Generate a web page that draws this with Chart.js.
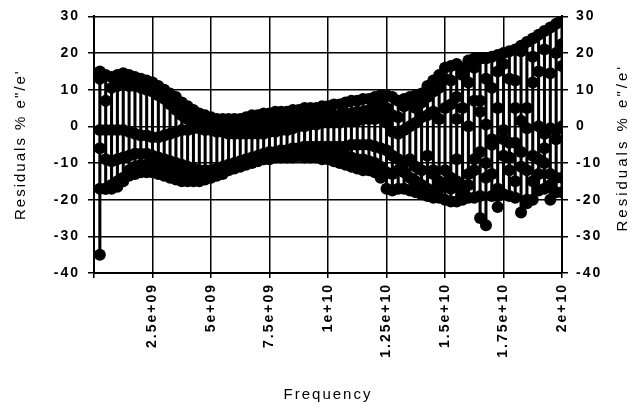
<!DOCTYPE html>
<html lang="en">
<head>
  <meta charset="UTF-8">
  <title>Residuals vs Frequency</title>
  <script src="https://cdn.jsdelivr.net/npm/chart.js"></script>
  <style>
    body { margin: 0; background: #fff; }
    #wrap { width: 632px; height: 410px; position: relative; }
  </style>
</head>
<body>
  <div id="wrap"><canvas id="chart"></canvas></div>

  <script>
    // frequency of each sample, in GHz
    const freqGHz = [
      0.25, 0.5, 0.75, 1, 1.25, 1.5, 1.75, 2, 2.25, 2.5,
      2.75, 3, 3.25, 3.5, 3.75, 4, 4.25, 4.5, 4.75, 5,
      5.25, 5.5, 5.75, 6, 6.25, 6.5, 6.75, 7, 7.25, 7.5,
      7.75, 8, 8.25, 8.5, 8.75, 9, 9.25, 9.5, 9.75, 10,
      10.25, 10.5, 10.75, 11, 11.25, 11.5, 11.75, 12, 12.25, 12.5,
      12.75, 13, 13.25, 13.5, 13.75, 14, 14.25, 14.5, 14.75, 15,
      15.25, 15.5, 15.75, 16, 16.25, 16.5, 16.75, 17, 17.25, 17.5,
      17.75, 18, 18.25, 18.5, 18.75, 19, 19.25, 19.5, 19.75, 20
    ];

    // residuals (%) for each measurement run
    const runA = [
      15, 14, 13.5, 14, 14.5, 14, 13.5, 13, 12.5, 12,
      11, 10, 9, 8, 6.5, 5.5, 4.5, 3.5, 3, 2.5,
      2, 2, 2, 2, 2, 2.5, 3, 3, 3.5, 3.5,
      4, 4, 4, 4.5, 4.5, 5, 5, 5, 5.5, 5.5,
      6, 6, 6.5, 7, 7, 7.5, 7.5, 8, 8.5, 8.5,
      8, 7, 7.5, 8, 8.5, 9, 11, 12.5, 14, 16,
      16.5, 17, 16, 18, 18.5, 18.5, 18.5, 19, 19.5, 20,
      20.5, 21, 22, 23, 24, 25, 26, 27, 28, 29.5
    ];
    const runB = [
      -35, -17, -17, -16.5, -15, -13.5, -13, -12.5, -12.5, -12.5,
      -13, -13.5, -14, -14.5, -15, -15, -15, -15, -14.5, -14,
      -13.5, -13, -12, -11.5, -11, -10.5, -10, -9.5, -9, -8.5,
      -8, -8, -8, -8, -8, -8.5, -8.5, -8.5, -9, -9,
      -9.5, -10, -10.5, -11, -11.5, -12, -12, -12.5, -14, -17,
      -17.5, -17, -17, -17.5, -18, -18.5, -19, -19.5, -19.5, -20,
      -20.5, -20.5, -20, -19.5, -19.5, -25, -27, -19, -22, -18.5,
      -19, -19.5, -23.5, -20, -20, -17.5, -17, -16, -18, -14
    ];
    const runC = [
      13, 7, 10.5, 11, 11.5, 11, 11, 10.5, 10, 9.5,
      8.5, 7.5, 6, 4.5, 3, 2, 1.5, 1, 0.5, 0.5,
      0, 0, 0, 0, 0, 0.5, 0.5, 0.5, 0.5, 1,
      1, 1.5, 1.5, 2, 2, 2, 2.5, 2.5, 2.5, 3,
      3, 3, 3.5, 3.5, 4, 4, 4.5, 5, 6, 5,
      3, 2.5, 5.5, 6, 5, 6.5, 8, 9.5, 10.5, 13,
      12.5, 8, 14, 12, 16, 7, 13, 10.5, 15, 17,
      13, 12.5, 20.5, 5, 19, 15, 21, 14.5, 20, 22.5
    ];
    const runD = [
      -6, -1, -1, -1, -1, -1.5, -2, -2.5, -2.5, -3,
      -3, -2.5, -2, -1.5, -1, -1, -0.5, -0.5, -1, -1,
      -1.5, -1.5, -2, -2, -2, -2, -2, -2, -2, -1.5,
      -1.5, -1, -1, -0.5, 0, 0, 0.5, 0.5, 1, 1,
      1, 1, 1.5, 1.5, 1.5, 2, 2, 2, 2.5, 1,
      -1.5, -2, -1, 0, 1, 2.5, 3, 4, 2, 5,
      6, 2, 5, 0, 7, 4, 0.5, -3.5, 5, -1,
      -4.5, 5, 1.5, -0.5, 12, 0, -2, -0.5, -1, 16.5
    ];
    const runE = [
      -1, -9, -9.5, -9, -8.5, -8, -7.5, -7.5, -7.5, -8,
      -8.5, -9, -9.5, -10, -10.5, -11, -11.5, -12, -12, -12,
      -11.5, -11, -10.5, -10, -9.5, -9, -8.5, -8, -7.5, -7,
      -7, -6.5, -6.5, -6, -6, -5.5, -5.5, -5.5, -5.5, -5.5,
      -5.5, -5.5, -5.5, -5, -5, -5, -5, -5.5, -6, -6.5,
      -8, -9, -10, -9, -11, -12, -8, -13, -15, -12,
      -14, -9, -16, -13, -12, -7, -14, -5, -17, -3.5,
      -8.5, -4.5, -11, -12, -8, -13, -6, -13, -3.5, 0
    ];
    const runF = [
      -17, -17, -16, -15, -14, -12, -11, -10.5, -10.5, -11,
      -11, -11.5, -12, -12.5, -13, -13, -13, -13, -12.5, -12.5,
      -12, -11.5, -11, -10.5, -10, -9.5, -9.5, -9, -9, -9,
      -8.5, -8.5, -8.5, -8.5, -8, -8, -8, -7.5, -7.5, -7.5,
      -7.5, -8, -8, -8.5, -9, -9, -9.5, -10, -11, -12.5,
      -13, -12, -12.5, -14, -15, -16, -17, -12, -17, -16,
      -17, -15, -18, -16, -9, -19, -10, -13, -19, -8,
      -12, -15, -7, -21, -15, -9, -10, -20, -14, -18
    ];

    const runs = [runA, runB, runC, runD, runE, runF];
    const yTitle = 'Residuals % e"/e\'';
    const xTitle = 'Frequency';

    const font = '"Liberation Sans", Arial, sans-serif';
    Chart.defaults.font.family = font;
    Chart.defaults.color = '#000';

    // 2.5e9 -> "2.5e+09"
    function sci(v) {
      if (v === 0) return '';
      const [m, e] = Number(v).toExponential().split('e');
      return m + 'e' + e[0] + e.slice(1).padStart(2, '0');
    }

    // high-low line at every frequency
    const hiLo = freqGHz.map((f, i) => {
      const vals = runs.map(r => r[i]);
      return { x: f * 1e9, y: [Math.min(...vals), Math.max(...vals)] };
    });

    const datasets = [{
      type: 'bar',
      data: hiLo,
      backgroundColor: '#000',
      barThickness: 2.4,
      order: 2
    }];
    runs.forEach(r => {
      datasets.push({
        type: 'scatter',
        data: freqGHz.map((f, i) => ({ x: f * 1e9, y: r[i] })),
        pointRadius: 6,
        pointBackgroundColor: '#000',
        pointBorderWidth: 0,
        showLine: false,
        order: 1
      });
    });

    const textStyle = {
      id: 'textStyle',
      beforeDraw(chart) {
        chart.ctx.letterSpacing = '2px';
      },
      afterDraw(chart) {
        const ctx = chart.ctx;
        ctx.save();
        ctx.letterSpacing = '3px';
        ctx.font = '15px ' + font;
        ctx.fillStyle = '#000';
        ctx.textAlign = 'center';
        ctx.textBaseline = 'middle';
        ctx.translate(623, (chart.chartArea.top + chart.chartArea.bottom) / 2 + 3);
        ctx.rotate(-Math.PI / 2);
        ctx.fillText(yTitle, 0, 0);
        ctx.restore();
      }
    };

    new Chart(document.getElementById('chart'), {
      type: 'scatter',
      data: { datasets },
      plugins: [textStyle],
      options: {
        responsive: true,
        maintainAspectRatio: false,
        animation: false,
        layout: { padding: { top: 16, left: 0, right: 0, bottom: 0 } },
        plugins: { legend: { display: false }, tooltip: { enabled: false } },
        scales: {
          x: {
            type: 'linear',
            min: 0,
            max: 2e10,
            offset: false,
            afterFit: s => { s.height = 137; },
            grid: { color: '#000', lineWidth: 1.5, tickLength: 5, offset: false },
            border: { color: '#000', width: 2 },
            ticks: {
              stepSize: 2.5e9,
              minRotation: 90,
              maxRotation: 90,
              padding: 5,
              font: { size: 14, weight: 'bold' },
              callback: v => sci(v)
            },
            title: {
              display: true,
              text: xTitle,
              font: { size: 15 },
              padding: { top: 0, bottom: 6 }
            }
          },
          y: {
            position: 'left',
            min: -40,
            max: 30,
            afterFit: s => { s.width = 94; },
            grid: { color: '#000', lineWidth: 1.5, tickLength: 6 },
            border: { color: '#000', width: 2 },
            ticks: { stepSize: 10, padding: 8, font: { size: 14, weight: 'bold' } },
            title: {
              display: true,
              text: yTitle,
              font: { size: 15 },
              padding: { top: 12, bottom: 0 }
            }
          },
          y2: {
            position: 'right',
            min: -40,
            max: 30,
            afterFit: s => { s.width = 70; },
            grid: { drawOnChartArea: false, color: '#000', lineWidth: 1.5, tickLength: 6 },
            border: { color: '#000', width: 2 },
            ticks: { stepSize: 10, padding: 8, font: { size: 14, weight: 'bold' } }
          }
        }
      }
    });
  </script>
</body>
</html>
